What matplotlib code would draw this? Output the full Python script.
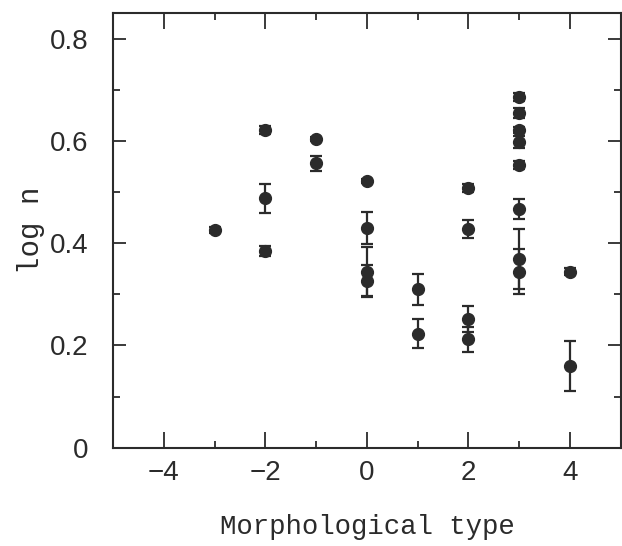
import matplotlib
matplotlib.use("Agg")
import matplotlib.pyplot as plt
from matplotlib.ticker import MultipleLocator

# morphological type, log n and error on log n
morph_type = [-3, -2, -2, -2, -1, -1, 0, 0, 0, 0,
              1, 1, 2, 2, 2, 2, 3, 3, 3, 3,
              3, 3, 3, 3, 4, 4]
log_n = [0.425, 0.621, 0.488, 0.385, 0.604, 0.556, 0.521, 0.430, 0.343, 0.327,
         0.310, 0.223, 0.508, 0.428, 0.252, 0.212, 0.686, 0.654, 0.621, 0.598,
         0.553, 0.467, 0.369, 0.344, 0.344, 0.160]
log_n_err = [0.006, 0.008, 0.028, 0.010, 0.004, 0.014, 0.004, 0.031, 0.049, 0.030,
             0.030, 0.028, 0.007, 0.017, 0.025, 0.025, 0.007, 0.010, 0.006, 0.012,
             0.007, 0.020, 0.059, 0.044, 0.007, 0.049]

ink = "#2b2b2b"
fig = plt.figure(figsize=(6.22, 5.46), dpi=100)
ax = fig.add_axes([0.182, 0.180, 0.816, 0.796])

ax.errorbar(morph_type, log_n, yerr=log_n_err, fmt="o", color=ink, ms=8.5,
            elinewidth=1.6, capsize=4.3, capthick=1.6, mec=ink, mfc=ink)

ax.set_xlim(-5, 5)
ax.set_ylim(0, 0.85)
ax.xaxis.set_minor_locator(MultipleLocator(1))
ax.yaxis.set_minor_locator(MultipleLocator(0.1))
ax.set_yticks([0, 0.2, 0.4, 0.6, 0.8])
ax.set_yticklabels(["0", "0.2", "0.4", "0.6", "0.8"])
ax.set_xticks([-4, -2, 0, 2, 4])
ax.set_xticklabels(["\u22124", "\u22122", "0", "2", "4"])

ax.tick_params(which="both", direction="in", top=True, right=True, color=ink)
ax.tick_params(which="major", width=1.3, labelsize=20, labelcolor=ink)
ax.tick_params(axis="x", which="major", length=11.5, pad=9)
ax.tick_params(axis="y", which="major", length=9.5, pad=18)
ax.tick_params(which="minor", length=5, width=1.3)
for lab in ax.get_xticklabels() + ax.get_yticklabels():
    lab.set_fontfamily("Liberation Sans")
for spine in ax.spines.values():
    spine.set_linewidth(1.5)
    spine.set_color(ink)

ax.set_xlabel("Morphological type", fontsize=19.7, fontfamily="Liberation Mono",
              color=ink, labelpad=20)
ax.set_ylabel("log n", fontsize=21, fontfamily="Liberation Mono",
              color=ink, labelpad=3)

fig.savefig("out.png", dpi=100)
